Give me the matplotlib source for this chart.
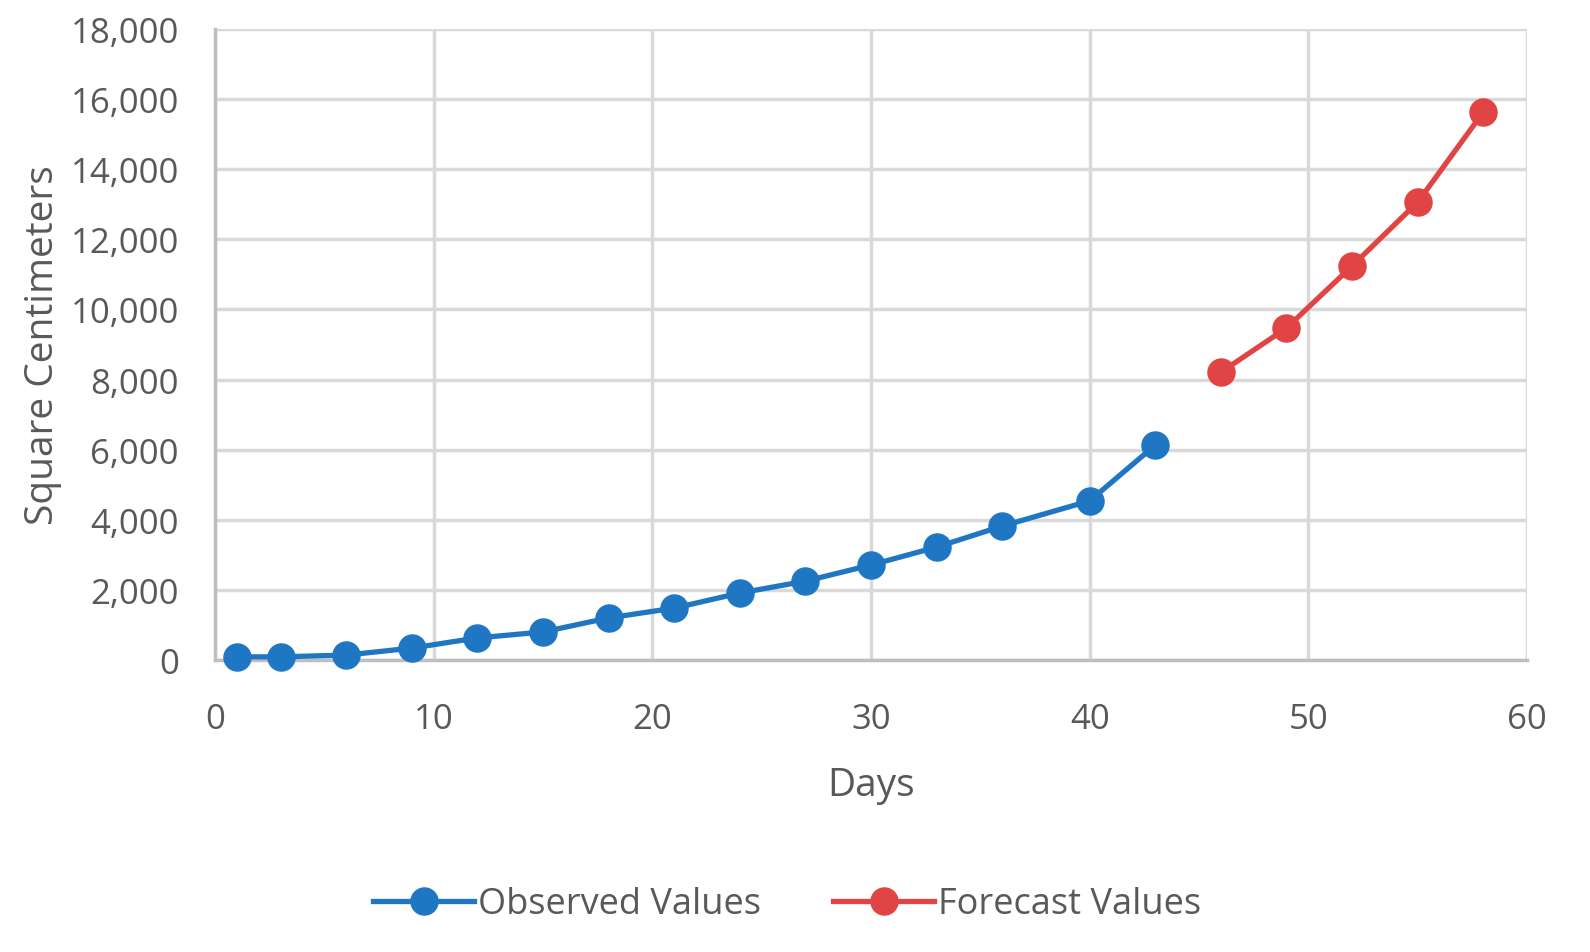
import matplotlib
matplotlib.use("Agg")
import matplotlib.pyplot as plt
from matplotlib.ticker import FuncFormatter

plt.rcParams['font.family'] = ['Open Sans', 'DejaVu Sans']

obs_days = [1, 3, 6, 9, 12, 15, 18, 21, 24, 27, 30, 33, 36, 40, 43]
obs_vals = [90, 90, 140, 340, 630, 800, 1200, 1480, 1910, 2250, 2710, 3220, 3820, 4540, 6130]
fc_days = [46, 49, 52, 55, 58]
fc_vals = [8210, 9470, 11240, 13060, 15630]

blue = '#1f77c4'
red = '#e04444'
tick_color = '#595959'

fig = plt.figure(figsize=(15.9, 9.53), dpi=100)
ax = fig.add_axes([0.1352, 0.3064, 0.8252, 0.6621])

ax.plot(obs_days, obs_vals, color=blue, lw=3.8, marker='o', ms=19.5, label='Observed Values', zorder=3, clip_on=False)
ax.plot(fc_days, fc_vals, color=red, lw=3.8, marker='o', ms=19.5, label='Forecast Values', zorder=3, clip_on=False)

ax.set_xlim(0, 60)
ax.set_ylim(0, 18000)
ax.set_xticks(range(0, 61, 10))
ax.set_yticks(range(0, 18001, 2000))
ax.yaxis.set_major_formatter(FuncFormatter(lambda v, p: f"{int(v):,}"))
ax.grid(True, color='#d9d9d9', lw=2.5)
ax.set_axisbelow(True)
for s in ['top', 'right']:
    ax.spines[s].set_visible(False)
for s in ['left', 'bottom']:
    ax.spines[s].set_color('#bfbfbf')
    ax.spines[s].set_linewidth(2.5)
ax.tick_params(length=0, labelsize=25, colors=tick_color)
ax.tick_params(axis='y', pad=26)
ax.tick_params(axis='x', pad=30)
ax.set_xlabel('Days', fontsize=28, color=tick_color, labelpad=22)
ax.set_ylabel('Square Centimeters', fontsize=28, color=tick_color, labelpad=6)

leg = fig.legend(loc='center', bbox_to_anchor=(0.495, 0.05), ncol=2, frameon=False,
                 fontsize=26, handlelength=2.8, columnspacing=2.0, handletextpad=0.1)
for t in leg.get_texts():
    t.set_color(tick_color)

fig.savefig('out.png', dpi=100)
